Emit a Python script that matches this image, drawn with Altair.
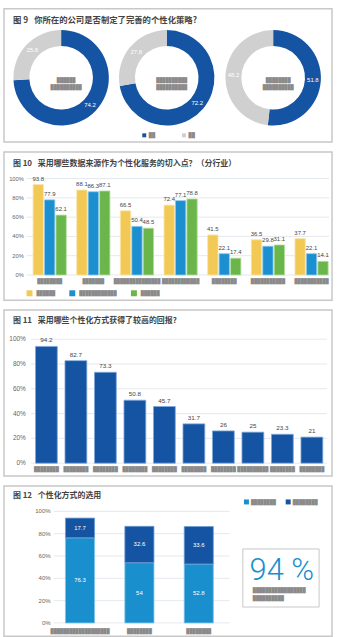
import altair as alt
import pandas as pd

BLOCK = "\u2588"
GAP = "\u00a0\u2002"


def redacted(n):
    return BLOCK * n


# ---------------- Figure 9 ----------------
fig9_title = "图 9" + GAP + "你所在的公司是否制定了完善的个性化策略?"
fig9_groups = ["g1", "g2", "g3"]
fig9_yes = [74.2, 72.2, 51.8]
fig9_no = [25.8, 27.8, 48.2]
fig9_series = ["yes", "no"]
fig9_series_labels = [redacted(2), redacted(2)]
fig9_center_line1 = [redacted(6), redacted(10), redacted(8)]
fig9_center_line2 = [redacted(10), redacted(10), redacted(10)]

# ---------------- Figure 10 ----------------
fig10_title = "图 10" + GAP + "采用哪些数据来源作为个性化服务的切入点？（分行业）"
fig10_cats = ["c1", "c2", "c3", "c4", "c5", "c6", "c7"]
fig10_cat_labels = [redacted(n) for n in (8, 7, 15, 12, 8, 11, 11)]
fig10_series = ["s1", "s2", "s3"]
fig10_series_labels = [redacted(6), redacted(12), redacted(6)]
fig10_s1 = [93.8, 88.1, 66.5, 72.4, 41.5, 36.5, 37.7]
fig10_s2 = [77.9, 86.3, 50.4, 77.1, 22.1, 29.8, 22.1]
fig10_s3 = [62.1, 87.1, 48.5, 78.8, 17.4, 31.1, 14.1]

# ---------------- Figure 11 ----------------
fig11_title = "图 11" + GAP + "采用哪些个性化方式获得了较高的回报?"
fig11_cats = ["m%d" % i for i in range(1, 11)]
fig11_cat_labels = [redacted(n) for n in (8, 8, 8, 8, 8, 8, 8, 10, 8, 8)]
fig11_values = [94.2, 82.7, 73.3, 50.8, 45.7, 31.7, 26, 25, 23.3, 21]

# ---------------- Figure 12 ----------------
fig12_title = "图 12" + GAP + "个性化方式的选用"
fig12_cats = ["k1", "k2", "k3"]
fig12_cat_labels = [redacted(19), redacted(8), redacted(8)]
fig12_series = ["t1", "t2"]
fig12_series_labels = [redacted(8), redacted(8)]
fig12_bottom = [76.3, 54, 52.8]
fig12_top = [17.7, 32.6, 33.6]
fig12_callout = "94 %"
fig12_callout_lines = [redacted(17), redacted(10)]

y_ticks = [0, 20, 40, 60, 80, 100]
y_tick_labels = ["0%", "20%", "40%", "60%", "80%", "100%"]

# ---------------- styles ----------------
CJK = "Noto Sans CJK SC"
NUM = "Liberation Sans"
BLOCK_FONT = "DejaVu Sans Mono"
BLOCK_FS = 5.2
GRAYTXT = "#8a8a8a"
DBLUE = "#1554a3"
LBLUE = "#1a8fcd"
LGRAY = "#d0d0d0"
YELLOW = "#f3c955"
BLUE10 = "#1b8fd0"
GREEN = "#6bb64b"
GRID = "#dde3ea"
FRAME = "#c8c8c8"
W = 330

one = pd.DataFrame({"k": [0]})
ticks_df = pd.DataFrame({"tick": y_ticks, "tlabel": y_tick_labels})


def label_expr(ids, labels):
    expr = "'%s'" % labels[-1]
    for i, l in reversed(list(zip(ids[:-1], labels[:-1]))):
        expr = "datum.label === '%s' ? '%s' : (%s)" % (i, l, expr)
    return expr


def legend(x, y, ids, labels, size, offset, colpad):
    return alt.Legend(
        orient="none", legendX=x, legendY=y, direction="horizontal", title=None,
        symbolType="square", symbolSize=size, symbolStrokeWidth=0,
        labelExpr=label_expr(ids, labels), labelFont=BLOCK_FONT,
        labelFontSize=BLOCK_FS, labelColor=GRAYTXT, labelOffset=offset,
        columnPadding=colpad, padding=0, labelBaseline="middle",
    )


def title_layer(text, x, y, size):
    return alt.Chart(one).mark_text(
        align="left", baseline="middle", font=CJK, fontSize=size,
        fontWeight="bold", color="#434343",
    ).encode(x=alt.value(x), y=alt.value(y), text=alt.value(text))


def block_text(text, x, y, align="center"):
    return alt.Chart(one).mark_text(
        align=align, baseline="middle", font=BLOCK_FONT, fontSize=BLOCK_FS,
        color=GRAYTXT,
    ).encode(x=alt.value(x), y=alt.value(y), text=alt.value(text))


def grid_layers(yscale, x0, x1, lab_x, lab_fs):
    rules = alt.Chart(ticks_df).mark_rule(color=GRID, strokeWidth=0.8).encode(
        y=alt.Y("tick:Q", scale=yscale, axis=None),
        x=alt.value(x0), x2=alt.value(x1),
    )
    labs = alt.Chart(ticks_df).mark_text(
        align="right", baseline="middle", font=NUM, fontSize=lab_fs, color="#666666"
    ).encode(
        y=alt.Y("tick:Q", scale=yscale, axis=None),
        x=alt.value(lab_x), text="tlabel:N",
    )
    return [rules, labs]


# ================= Panel 1: donuts =================
H1 = 134
CX9 = [57.5, 163.7, 270.8]
CY9 = 69.3
rows = []
for i, g in enumerate(fig9_groups):
    rows.append({"grp": g, "series": fig9_series[0], "value": fig9_yes[i], "ord": 0})
    rows.append({"grp": g, "series": fig9_series[1], "value": fig9_no[i], "ord": 1})
df9 = pd.DataFrame(rows)
color9 = alt.Color(
    "series:N",
    scale=alt.Scale(domain=fig9_series, range=[DBLUE, LGRAY]),
    legend=legend(138.5, 124.5, fig9_series, fig9_series_labels, 16, 2, 26),
)
layers1 = [title_layer(fig9_title, 9, 11.2, 8.4)]
for i, g in enumerate(fig9_groups):
    base = alt.Chart(df9).transform_filter(alt.datum.grp == g)
    layers1.append(
        base.mark_arc(innerRadius=32, outerRadius=48).encode(
            theta=alt.Theta("value:Q", stack=True),
            color=color9,
            order=alt.Order("ord:Q"),
            x=alt.value(CX9[i]), y=alt.value(CY9),
        )
    )
    layers1.append(
        base.mark_text(radius=40, font=NUM, fontSize=6, color="white").encode(
            theta=alt.Theta("value:Q", stack=True),
            order=alt.Order("ord:Q"),
            text=alt.Text("value:Q", format=".1f"),
            x=alt.value(CX9[i]), y=alt.value(CY9),
        )
    )
    layers1.append(block_text(fig9_center_line1[i], CX9[i] + 5, 71.8))
    layers1.append(block_text(fig9_center_line2[i], CX9[i] + 5, 79))
p1 = alt.layer(*layers1).properties(width=W, height=H1)

# ================= Panel 2: grouped bars =================
H2 = 149
rows = []
for s, vals in zip(fig10_series, [fig10_s1, fig10_s2, fig10_s3]):
    for c, v in zip(fig10_cats, vals):
        rows.append({"cat": c, "series": s, "value": v})
df10 = pd.DataFrame(rows)
lab10 = pd.DataFrame({"cat": fig10_cats, "lab": fig10_cat_labels})
xs10 = alt.Scale(domain=fig10_cats, range=[29.3, 326.1], paddingInner=0.24, paddingOuter=0)
ys10 = alt.Scale(domain=[0, 100], range=[123.7, 26.7])
xo10 = alt.XOffset("series:N", scale=alt.Scale(domain=fig10_series, paddingInner=0.1, paddingOuter=0))
bars10 = alt.Chart(df10).mark_bar(strokeWidth=0.8).encode(
    x=alt.X("cat:N", scale=xs10, axis=None),
    xOffset=xo10,
    y=alt.Y("value:Q", scale=ys10, axis=None, stack=None),
    color=alt.Color(
        "series:N",
        scale=alt.Scale(domain=fig10_series, range=[YELLOW, BLUE10, GREEN]),
        legend=legend(22.7, 138.7, fig10_series, fig10_series_labels, 36, 4, 14),
    ),
    stroke=alt.Stroke(
        "series:N",
        scale=alt.Scale(domain=fig10_series, range=["#f9e3a6", "#8cc8ec", "#b3dc9c"]),
        legend=None,
    ),
)
vals10 = alt.Chart(df10).mark_text(
    dy=-3, baseline="bottom", font=NUM, fontSize=6, color="#444444"
).encode(
    x=alt.X("cat:N", scale=xs10, axis=None),
    xOffset=xo10,
    y=alt.Y("value:Q", scale=ys10, axis=None, stack=None),
    text=alt.Text("value:Q", format=".1f"),
)
xl10 = alt.Chart(lab10).mark_text(
    baseline="middle", font=BLOCK_FONT, fontSize=BLOCK_FS, color=GRAYTXT
).encode(x=alt.X("cat:N", scale=xs10, axis=None), y=alt.value(130), text="lab:N")
p2 = alt.layer(
    title_layer(fig10_title, 9, 12.3, 8.0),
    *grid_layers(ys10, 23, 327, 20, 5.8),
    bars10, vals10, xl10,
).properties(width=W, height=H2)

# ================= Panel 3: single bars =================
H3 = 167
df11 = pd.DataFrame({"cat": fig11_cats, "value": fig11_values, "lab": fig11_cat_labels})
xs11 = alt.Scale(domain=fig11_cats, range=[31.7, 320.7], paddingInner=0.26, paddingOuter=0)
ys11 = alt.Scale(domain=[0, 100], range=[154, 29.3])
bars11 = alt.Chart(df11).mark_bar(color=DBLUE, stroke="#7ea8da", strokeWidth=0.8).encode(
    x=alt.X("cat:N", scale=xs11, axis=None),
    y=alt.Y("value:Q", scale=ys11, axis=None),
)
vals11 = alt.Chart(df11).mark_text(
    dy=-3, baseline="bottom", font=NUM, fontSize=6.3, color="#444444"
).encode(
    x=alt.X("cat:N", scale=xs11, axis=None),
    y=alt.Y("value:Q", scale=ys11, axis=None),
    text=alt.Text("value:Q", format=".1~f"),
)
xl11 = alt.Chart(df11).mark_text(
    baseline="middle", font=BLOCK_FONT, fontSize=BLOCK_FS, color=GRAYTXT
).encode(x=alt.X("cat:N", scale=xs11, axis=None), y=alt.value(159.7), text="lab:N")
p3 = alt.layer(
    title_layer(fig11_title, 9, 10.7, 8.0),
    *grid_layers(ys11, 27, 325, 22, 6.5),
    bars11, vals11, xl11,
).properties(width=W, height=H3)

# ================= Panel 4: stacked bars =================
H4 = 151
rows = []
for i, c in enumerate(fig12_cats):
    rows.append({"cat": c, "series": fig12_series[0], "value": fig12_bottom[i], "ord": 0})
    rows.append({"cat": c, "series": fig12_series[1], "value": fig12_top[i], "ord": 1})
df12 = pd.DataFrame(rows)
lab12 = pd.DataFrame({"cat": fig12_cats, "lab": fig12_cat_labels})
xs12 = alt.Scale(domain=fig12_cats, range=[61.85, 210.6], paddingInner=0.51, paddingOuter=0)
ys12 = alt.Scale(domain=[0, 100], range=[137.7, 25.5])
base12 = alt.Chart(df12).transform_stack(
    stack="value", groupby=["cat"], as_=["v0", "v1"],
    sort=[alt.SortField("ord", order="ascending")],
).transform_calculate(mid="(datum.v0 + datum.v1) / 2")
bars12 = base12.mark_bar(strokeWidth=0.8).encode(
    x=alt.X("cat:N", scale=xs12, axis=None),
    y=alt.Y("v1:Q", scale=ys12, axis=None),
    y2="v0:Q",
    color=alt.Color(
        "series:N",
        scale=alt.Scale(domain=fig12_series, range=[LBLUE, DBLUE]),
        legend=legend(241.3, 13.3, fig12_series, fig12_series_labels, 25, 2, 9),
    ),
    stroke=alt.Stroke(
        "series:N",
        scale=alt.Scale(domain=fig12_series, range=["#7fc2e8", "#6f9bd3"]),
        legend=None,
    ),
)
vals12 = base12.mark_text(baseline="middle", font=NUM, fontSize=6, color="white").encode(
    x=alt.X("cat:N", scale=xs12, axis=None),
    y=alt.Y("mid:Q", scale=ys12, axis=None),
    text=alt.Text("value:Q", format=".1~f"),
)
xl12 = alt.Chart(lab12).mark_text(
    baseline="middle", font=BLOCK_FONT, fontSize=BLOCK_FS, color=GRAYTXT
).encode(x=alt.X("cat:N", scale=xs12, axis=None), y=alt.value(145.8), text="lab:N")
box12 = alt.Chart(one).mark_rect(fill="white", stroke=FRAME, strokeWidth=1).encode(
    x=alt.value(240.3), x2=alt.value(317), y=alt.value(63.3), y2=alt.value(121.7)
)
big12 = alt.Chart(one).mark_text(
    align="center", baseline="alphabetic", font="Roboto", fontWeight=300,
    fontSize=31, color=LBLUE,
).encode(x=alt.value(279.5), y=alt.value(95), text=alt.value(fig12_callout))
p4 = alt.layer(
    title_layer(fig12_title, 9, 10, 8.0),
    *grid_layers(ys12, 50.3, 227, 47, 6.1),
    bars12, vals12, xl12, box12, big12,
    block_text(fig12_callout_lines[0], 250.3, 105, "left"),
    block_text(fig12_callout_lines[1], 250.3, 112.3, "left"),
).properties(width=W, height=H4)

chart = (
    alt.vconcat(p1, p2, p3, p4, spacing=8)
    .resolve_scale(color="independent", stroke="independent", theta="independent",
                   x="independent", y="independent")
    .resolve_legend(color="independent", stroke="independent")
    .properties(padding={"left": 3, "top": 6, "right": 4, "bottom": 6}, background="white")
    .configure_view(stroke=FRAME, strokeWidth=1.5)
)
chart.save("out.html", embed_options={"renderer": "svg", "actions": False})
